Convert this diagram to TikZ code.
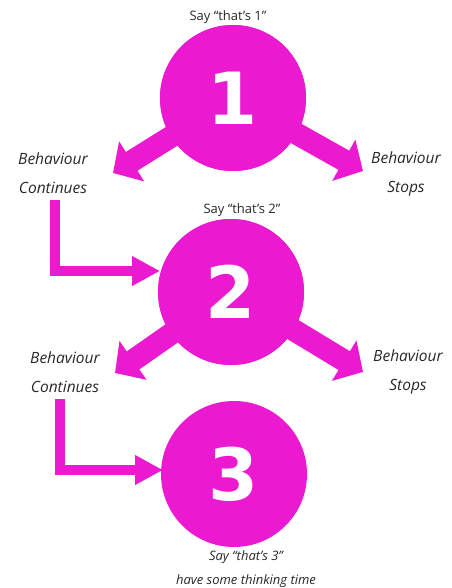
\documentclass[tikz,border=0pt]{standalone}
\usepackage{fontspec}
\setmainfont{Open Sans}
\newfontfamily\numfont{DejaVu Sans}
\usetikzlibrary{arrows.meta}
\definecolor{mag}{RGB}{235,26,208}
\definecolor{txt}{RGB}{40,40,40}
\tikzset{
  bigcirc/.style={circle, fill=mag, minimum size=146pt, inner sep=0pt, text=white,
    font=\numfont\bfseries\fontsize{72pt}{72pt}\selectfont},
  lbl/.style={text=txt, align=center, inner sep=0pt, font=\itshape\fontsize{15.5pt}{29pt}\selectfont},
  saylbl/.style={text=txt, align=center, inner sep=0pt, font=\fontsize{13pt}{15pt}\selectfont},
  fatarrow/.style={draw=mag, line width=22pt, -{Triangle[width=46pt,length=22pt]}},
  larrow/.style={draw=mag, line width=10pt, -{Triangle[width=28pt,length=28pt]}}
}
\begin{document}
\begin{tikzpicture}[x=1pt,y=-1pt]
\useasboundingbox (0,0) rectangle (451,588);
% arrow end points
\coordinate (t1l) at (113,173);
\coordinate (t1r) at (363,171);
\coordinate (t2l) at (115,373);
\coordinate (t2r) at (363,372);
\coordinate (l1a) at (55,200);
\coordinate (l1b) at (55,271);
\coordinate (l1c) at (160,271);
\coordinate (l2a) at (60,399);
\coordinate (l2b) at (60,470);
\coordinate (l2c) at (163,470);
% diagonal arrows (under circles)
\node[bigcirc] (c1) at (233,98) {};
\node[bigcirc] (c2) at (231,292) {};
\draw[fatarrow] (c1.center) -- (t1l);
\draw[fatarrow] (c1.center) -- (t1r);
\draw[fatarrow] (c2.center) -- (t2l);
\draw[fatarrow] (c2.center) -- (t2r);
% circles
\node[bigcirc] at (c1.center) {1};
\node[bigcirc] at (c2.center) {2};
\node[bigcirc] (c3) at (234,474) {3};
% L arrows
\draw[larrow] (l1a) -- (l1b) -- (l1c);
\draw[larrow] (l2a) -- (l2b) -- (l2c);
% labels
\node[saylbl] (s1) at (228,17) {Say “that’s 1”};
\node[lbl] (bc1) at (53,173) {Behaviour\\Continues};
\node[lbl] (bs1) at (406,174) {Behaviour\\Stops};
\node[saylbl] (s2) at (242,210) {Say “that’s 2”};
\node[lbl] (bc2) at (65,372) {Behaviour\\Continues};
\node[lbl] (bs2) at (408,372) {Behaviour\\Stops};
\node[saylbl, font=\itshape\fontsize{13pt}{24pt}\selectfont] (s3) at (246,569) {Say “that’s 3”\\have some thinking time};
\end{tikzpicture}
\end{document}
